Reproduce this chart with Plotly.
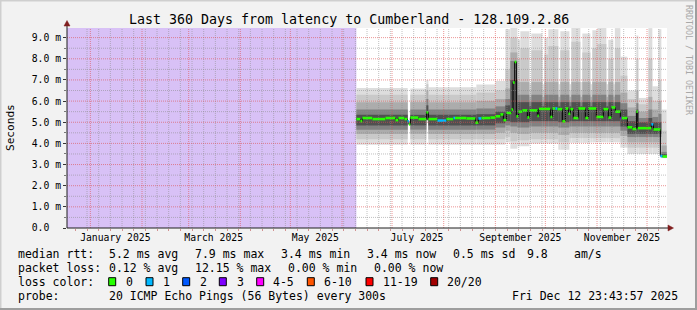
import numpy as np
import pandas as pd
import plotly.graph_objects as go

# ---------------- data ----------------
title = "Last 360 Days from latency to Cumberland - 128.109.2.86"
window_start = "2024-12-17 23:43:57"
window_end = "2025-12-12 23:43:57"
y_max = 9.456                      # ms
unknown_until_doy = 160.6          # no data before this day-of-year 2025

month_labels = ["January 2025", "March 2025", "May 2025", "July 2025",
                "September 2025", "November 2025"]
month_label_dates = ["2025-01-16", "2025-03-16", "2025-05-16", "2025-07-16",
                     "2025-09-16", "2025-11-16"]
y_ticks = [0, 1, 2, 3, 4, 5, 6, 7, 8, 9]
y_tick_labels = ["0.0\u00a0\u00a0", "1.0 m", "2.0 m", "3.0 m", "4.0 m",
                 "5.0 m", "6.0 m", "7.0 m", "8.0 m", "9.0 m"]

# median rtt (ms), step segments starting at day-of-year 2025
med_doy = [160.6, 163.0, 164.2, 170.2, 178.0, 184.0, 185.8, 189.4, 191.2, 192.1,
           193.0, 197.8, 202.6, 203.8, 209.2, 214.6, 218.8, 219.8, 226.6, 232.0,
           233.8, 235.6, 241.0, 244.0, 247.0, 248.8, 250.6, 253.6, 254.6, 255.6,
           256.6, 257.8, 260.2, 263.2, 264.4, 269.2, 270.1, 277.0, 278.2, 280.0,
           281.2, 284.2, 286.0, 287.8, 289.0, 290.8, 293.8, 298.0, 299.8, 304.6,
           308.8, 311.8, 313.6, 316.0, 319.0, 319.6, 323.2, 326.2, 328.6, 329.5,
           337.6, 338.8, 343.0, 344.2]
med_ms = [5.15, 5.05, 5.20, 5.15, 5.20, 5.10, 5.20, 5.15, 5.05, 4.90,
          5.22, 5.15, 5.47, 5.15, 5.08, 5.15, 5.20, 5.20, 5.18, 4.98,
          5.18, 5.20, 5.22, 5.28, 5.37, 5.10, 5.44, 5.60, 6.88, 7.85,
          5.28, 5.50, 5.56, 5.23, 5.56, 5.30, 5.63, 5.25, 5.65, 5.65,
          5.62, 5.04, 5.65, 5.40, 5.62, 5.20, 5.65, 5.20, 5.65, 5.25,
          5.62, 5.22, 5.70, 5.50, 5.20, 5.20, 4.76, 4.68, 5.50, 4.72,
          4.90, 4.66, 3.40, 3.38]
med_loss = [0, 0, 0, 0, 0, 0, 0, 0, 1, 0,
            0, 0, 0, 0, 1, 0, 1, 0, 0, 0,
            1, 0, 0, 0, 0, 0, 0, 0, 0, 0,
            0, 0, 0, 0, 0, 0, 0, 0, 0, 1,
            0, 0, 0, 0, 0, 0, 0, 0, 0, 0,
            0, 0, 0, 0, 3, 0, 0, 0, 0, 0,
            1, 0, 1, 0]
med_end_doy = 347.0

# smoke: ping spread bands (outer 1 -> inner 5), step segments
smoke_doy = [160.6, 191.4, 193.0, 202.6, 203.8, 232.6, 244.0, 250.0, 253.0, 257.2,
             259.0, 264.4, 265.6, 272.2, 273.4, 275.8, 281.8, 283.0, 288.4, 289.6,
             295.0, 296.2, 301.0, 302.2, 305.2, 310.6, 311.8, 314.8, 315.7, 319.0,
             323.2, 328.6, 329.8, 335.8, 338.2, 341.8, 343.6]
smoke_end_doy = 346.8
lo1 = [3.94, None, 3.94, 5.10, 3.94, 3.94, 3.94, 4.05, 3.75, 3.86,
       3.86, 4.00, 4.00, 4.00, 4.00, 4.00, 3.70, 3.70, 4.03, 4.03,
       4.03, 4.03, 4.05, 4.05, 4.05, 4.05, 4.05, 4.05, 4.05, 3.80,
       3.50, 3.50, 3.50, 3.50, 3.50, 3.50, 3.30]
lo2 = [4.20, None, 4.20, 5.10, 4.20, 4.20, 4.20, 4.30, 4.10, 4.15,
       4.15, 4.20, 4.20, 4.20, 4.20, 4.20, 4.05, 4.05, 4.25, 4.25,
       4.25, 4.25, 4.25, 4.25, 4.25, 4.25, 4.25, 4.25, 4.25, 4.05,
       3.80, 3.80, 3.80, 3.80, 3.80, 3.80, 3.32]
lo3 = [4.45, None, 4.45, 5.10, 4.45, 4.45, 4.50, 4.60, 4.50, 4.45,
       4.45, 4.50, 4.50, 4.50, 4.50, 4.50, 4.40, 4.40, 4.50, 4.50,
       4.50, 4.50, 4.50, 4.50, 4.50, 4.50, 4.50, 4.50, 4.50, 4.35,
       4.05, 4.05, 4.05, 4.05, 4.05, 4.05, 3.34]
lo4 = [4.65, None, 4.65, 5.10, 4.65, 4.65, 4.75, 4.85, 4.80, 4.75,
       4.75, 4.80, 4.80, 4.80, 4.80, 4.80, 4.75, 4.75, 4.80, 4.80,
       4.80, 4.80, 4.80, 4.80, 4.80, 4.80, 4.80, 4.80, 4.80, 4.60,
       4.30, 4.30, 4.30, 4.30, 4.30, 4.30, 3.35]
lo5 = [4.85, None, 4.85, 5.10, 4.85, 4.85, 4.95, 5.05, 5.00, 5.00,
       5.00, 5.05, 5.05, 5.05, 5.05, 5.05, 5.00, 5.00, 5.05, 5.05,
       5.05, 5.05, 5.05, 5.05, 5.05, 5.05, 5.05, 5.05, 5.05, 4.80,
       4.45, 4.45, 4.45, 4.45, 4.45, 4.45, 3.36]
hi1 = [6.62, None, 6.60, 7.00, 6.65, 6.78, 6.95, 9.40, 9.47, 8.90,
       9.30, 6.80, 9.20, 6.80, 9.00, 9.40, 6.80, 9.30, 6.80, 9.47,
       6.90, 9.20, 6.80, 9.35, 9.47, 6.80, 8.90, 6.80, 9.45, 8.10,
       6.50, 9.10, 6.15, 9.45, 6.70, 9.40, 5.60]
hi2 = [6.30, None, 6.30, 6.80, 6.30, 6.40, 6.50, 7.50, 9.00, 8.00,
       8.50, 6.50, 8.40, 6.50, 8.20, 8.60, 6.50, 8.40, 6.50, 8.80,
       6.50, 8.30, 6.50, 8.50, 8.70, 6.50, 8.00, 6.50, 8.50, 7.20,
       6.10, 8.00, 5.85, 8.00, 6.00, 7.00, 4.60]
hi3 = [5.95, None, 5.95, 6.50, 5.95, 6.00, 6.10, 6.60, 8.30, 6.90,
       6.90, 6.20, 6.90, 6.20, 6.90, 6.90, 6.20, 6.90, 6.20, 6.90,
       6.20, 6.90, 6.20, 6.90, 6.90, 6.20, 6.90, 6.20, 6.90, 6.40,
       5.70, 6.50, 5.50, 6.20, 5.60, 6.00, 3.90]
hi4 = [5.60, None, 5.60, 6.10, 5.60, 5.65, 5.75, 6.10, 7.90, 6.30,
       6.30, 5.95, 6.30, 5.95, 6.30, 6.30, 5.95, 6.30, 5.95, 6.30,
       5.95, 6.30, 5.95, 6.30, 6.30, 5.95, 6.30, 5.95, 6.30, 5.90,
       5.30, 5.90, 5.20, 5.60, 5.25, 5.40, 3.60]
hi5 = [5.35, None, 5.35, 5.80, 5.35, 5.38, 5.50, 5.80, 7.00, 5.95,
       5.95, 5.75, 5.95, 5.75, 5.95, 5.95, 5.75, 5.95, 5.75, 5.95,
       5.75, 5.95, 5.75, 5.95, 5.95, 5.75, 5.95, 5.75, 5.95, 5.60,
       5.05, 5.60, 5.00, 5.20, 5.00, 5.00, 3.50]

# legend / statistics text
rtt_stats = ["5.2 ms avg", "7.9 ms max", "3.4 ms min", "3.4 ms now", "0.5 ms sd", "9.8", "am/s"]
loss_stats = ["0.12 % avg", "12.15 % max", "0.00 % min", "0.00 % now"]
loss_labels = ["0", "1", "2", "3", "4-5", "6-10", "11-19", "20/20"]
loss_colors = ["#26ff00", "#00b8ff", "#0059ff", "#7e00ff", "#ff00ff", "#ff5500", "#ff0000", "#a10000"]
probe_text = "20 ICMP Echo Pings (56 Bytes) every 300s"
stamp_text = "Fri Dec 12 23:43:57 2025"

# ---------------- geometry / style ----------------
W, H = 697, 310
L, R, T, B = 67, 30, 28, 82
PW, PH = W - L - R, H - T - B
FONT = "DejaVu Sans Mono"
DAY_MS = 86400000.0


def px(x):
    return (x - L) / PW


def py(y):
    return (T + PH - y) / PH


def to_dt(doy):
    return pd.Timestamp("2025-01-01") + pd.to_timedelta(np.asarray(doy, float) - 1.0, unit="D")


fig = go.Figure()

# smoke bands
s_x = to_dt(smoke_doy)
s_w = np.diff(np.append(smoke_doy, smoke_end_doy)) * DAY_MS
band_cols = ["#dddddd", "#c9c9c9", "#acacac", "#828282", "#505050"]
for lo, hi, col in zip([lo1, lo2, lo3, lo4, lo5], [hi1, hi2, hi3, hi4, hi5], band_cols):
    fig.add_trace(go.Bar(
        x=s_x, base=lo,
        y=[(h - l) if (h is not None and l is not None) else None for l, h in zip(lo, hi)],
        width=s_w, offset=0, marker=dict(color=col, line=dict(width=0)),
        hoverinfo="skip"))

# median: black step line, then loss-coloured horizontal segments on top
m_ends = med_doy[1:] + [med_end_doy]
fig.add_trace(go.Scatter(x=to_dt(med_doy + [med_end_doy]), y=med_ms + [med_ms[-1]],
                         mode="lines", line=dict(shape="hv", color="#000000", width=1),
                         hoverinfo="skip"))
for lv in sorted(set(med_loss)):
    xs, ys = [], []
    for d0, d1, m, l in zip(med_doy, m_ends, med_ms, med_loss):
        if l == lv:
            xs += [d0, d1, None]
            ys += [m, m, None]
    xd = [to_dt([d])[0] if d is not None else None for d in xs]
    fig.add_trace(go.Scatter(x=xd, y=ys, mode="lines", connectgaps=False,
                             line=dict(color=loss_colors[lv], width=2.6),
                             hoverinfo="skip"))

# unknown-data area
fig.add_vrect(x0=window_start, x1=to_dt([unknown_until_doy])[0], fillcolor="#d8c1f6",
              opacity=1, line_width=0, layer="below")

# grid (drawn on top like rrdtool)
shapes = []
months = pd.date_range("2025-01-01", "2025-12-01", freq="MS")
weeks = pd.date_range("2024-12-23", window_end, freq="7D")
minor_col = "rgba(140,140,140,0.55)"
major_col = "rgba(222,79,79,0.6)"
for w in weeks:
    if w in months:
        continue
    shapes.append(dict(type="line", xref="x", yref="paper", x0=w, x1=w, y0=0, y1=1,
                       line=dict(color=minor_col, width=1, dash="1px,1px"), layer="above"))
for m in months:
    shapes.append(dict(type="line", xref="x", yref="paper", x0=m, x1=m, y0=0, y1=1,
                       line=dict(color=major_col, width=1, dash="1px,1px"), layer="above"))
for v in np.arange(0.5, y_max, 0.5):
    col = major_col if float(v).is_integer() else minor_col
    shapes.append(dict(type="line", xref="paper", yref="y", x0=0, x1=1, y0=v, y1=v,
                       line=dict(color=col, width=1, dash="1px,1px"), layer="above"))

# axes lines + arrows
axis_col = "#1f1f1f"
arrow_col = "#801f1f"
shapes.append(dict(type="line", xref="paper", yref="paper", x0=px(67), x1=px(669),
                   y0=py(228), y1=py(228), line=dict(color=axis_col, width=1), layer="above"))
shapes.append(dict(type="line", xref="paper", yref="paper", x0=px(67), x1=px(67),
                   y0=py(228), y1=py(25), line=dict(color=axis_col, width=1), layer="above"))
shapes.append(dict(type="path", xref="paper", yref="paper",
                   path=f"M {px(668)},{py(225)} L {px(673.5)},{py(228)} L {px(668)},{py(231)} Z",
                   fillcolor=arrow_col, line=dict(color=arrow_col, width=0.5), layer="above"))
shapes.append(dict(type="path", xref="paper", yref="paper",
                   path=f"M {px(64)},{py(26)} L {px(67)},{py(20.5)} L {px(70)},{py(26)} Z",
                   fillcolor=arrow_col, line=dict(color=arrow_col, width=0.5), layer="above"))

# image border shading
for (x0, x1, y0, y1, c) in [(0, 697, 0, 1.5, "#cfcfcf"), (0, 1.5, 0, 310, "#cfcfcf"),
                            (695, 697, 0, 310, "#9e9e9e"), (0, 697, 308, 310, "#9e9e9e")]:
    shapes.append(dict(type="rect", xref="paper", yref="paper", x0=px(x0), x1=px(x1),
                       y0=py(y1), y1=py(y0), fillcolor=c, line=dict(width=0), layer="above"))

# legend colour boxes
box_x = [108.7, 146.0, 182.7, 219.3, 256.7, 307.3, 366.0, 430.7]
lab_x = [124.0, 161.3, 198.0, 234.7, 271.3, 322.0, 380.7, 445.3]
row_y = [254.3, 267.8, 281.7, 296.0]
for bx, col in zip(box_x, loss_colors):
    shapes.append(dict(type="rect", xref="paper", yref="paper", x0=px(bx), x1=px(bx + 7),
                       y0=py(row_y[2] + 4), y1=py(row_y[2] - 4), fillcolor=col,
                       line=dict(color="#000000", width=1), layer="above"))

ann = []


def text(x, y, s, size=11.5, anchor="left", color="#000000", angle=0):
    ann.append(dict(xref="paper", yref="paper", x=px(x), y=py(y), text=s, showarrow=False,
                    xanchor=anchor, yanchor="middle", textangle=angle,
                    font=dict(family=FONT, size=size, color=color)))


text(348.5, 19.3, title, size=13.3, anchor="center")
text(10.5, 127.5, "Seconds", size=11.1, anchor="center", angle=-90)
text(689, 60, "RRDTOOL / TOBI OETIKER", size=8.3, anchor="center", color="#a8a8a8", angle=90)

text(16, row_y[0], "median rtt:")
for x, s in zip([107.3, 193.3, 279.3, 365.0, 451.0, 525.3, 572.3], rtt_stats):
    text(x, row_y[0], s)
text(16, row_y[1], "packet loss:")
for x, s in zip([107.3, 193.3, 286.0, 372.3], loss_stats):
    text(x, row_y[1], s)
text(16, row_y[2], "loss color:")
for x, s in zip(lab_x, loss_labels):
    text(x, row_y[2], s)
text(16, row_y[3], "probe:")
text(107.3, row_y[3], probe_text)
text(680, row_y[3], stamp_text, anchor="right")

fig.update_layout(
    width=W, height=H, autosize=False,
    margin=dict(l=L, r=R, t=T, b=B, pad=0),
    paper_bgcolor="#f2f2f2", plot_bgcolor="#ffffff",
    showlegend=False, barmode="overlay",
    font=dict(family=FONT, size=9.75, color="#000000"),
    shapes=shapes, annotations=ann,
)
fig.update_xaxes(type="date", range=[window_start, window_end],
                 tickmode="array", tickvals=month_label_dates, ticktext=month_labels,
                 ticks="", showgrid=False, zeroline=False, showline=False,
                 ticklabelstandoff=2,
                 tickfont=dict(family=FONT, size=9.75, color="#000000"),
                 minor=dict(tickmode="linear", tick0="2024-12-23", dtick=7 * DAY_MS,
                            ticks="outside", ticklen=2, tickcolor="rgba(200,120,120,0.8)",
                            showgrid=False))
fig.update_yaxes(range=[0, y_max], tickmode="array", tickvals=y_ticks, ticktext=y_tick_labels,
                 ticks="outside", ticklen=3, tickcolor="#333333", showgrid=False,
                 zeroline=False, showline=False,
                 tickfont=dict(family=FONT, size=9.75, color="#000000"),
                 minor=dict(tickmode="linear", tick0=0, dtick=0.5, ticks="outside",
                            ticklen=2, tickcolor="#777777", showgrid=False))

fig.write_html("out.html")
